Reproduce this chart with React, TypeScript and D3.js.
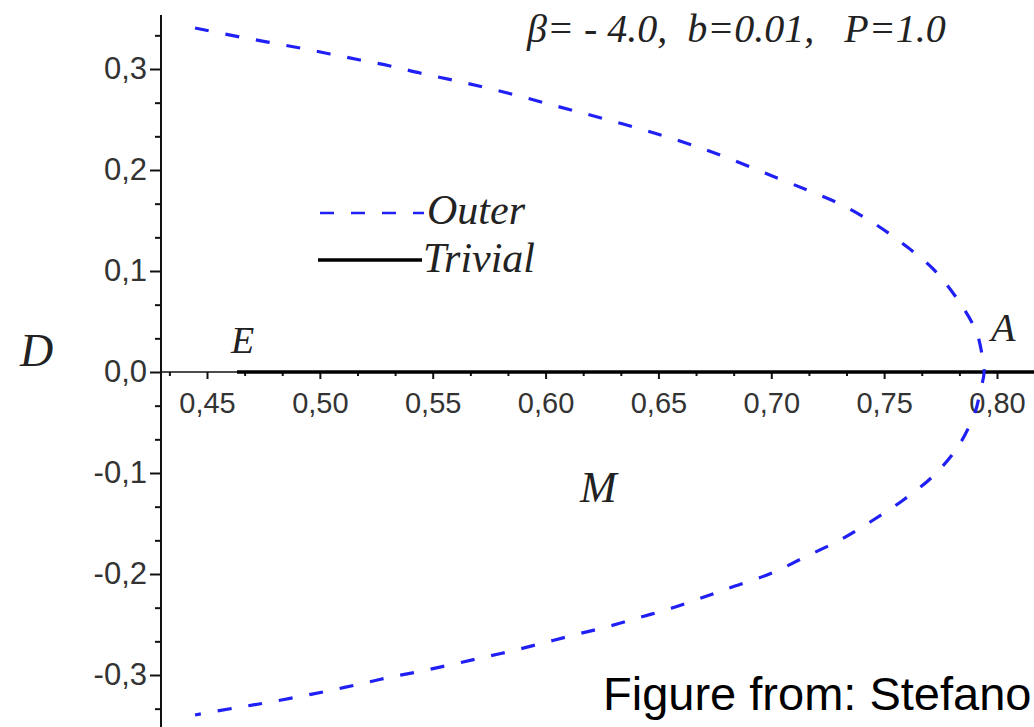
import React, { useRef, useEffect } from 'react';
import * as d3 from 'd3';

const outerM = [
  0.4447, 0.4646, 0.4912, 0.5045, 0.5178, 0.5311, 0.5444, 0.5586, 0.5723, 0.5865,
  0.5998, 0.613, 0.6263, 0.6405, 0.6538, 0.6675, 0.6808, 0.6972, 0.7158, 0.7305,
  0.7446, 0.7579, 0.7717, 0.7827, 0.7907, 0.7934, 0.7943,
  0.7925, 0.7903, 0.7832, 0.7717, 0.7579, 0.7438, 0.7305, 0.7158, 0.7003, 0.6839,
  0.6702, 0.656, 0.6423, 0.6286, 0.6144, 0.6006, 0.5869, 0.5732, 0.5594, 0.5453,
  0.5315, 0.5178, 0.5036, 0.4899, 0.4757, 0.462, 0.4447,
];
const outerD = [
  0.3406, 0.3317, 0.3208, 0.3149, 0.3089, 0.303, 0.296, 0.2891, 0.2822, 0.2743,
  0.2663, 0.2584, 0.2505, 0.2416, 0.2327, 0.2228, 0.2119, 0.197, 0.1802, 0.1663,
  0.1485, 0.1277, 0.102, 0.0713, 0.0406, 0.0168, 0.0,
  -0.0198, -0.0396, -0.0723, -0.103, -0.1277, -0.1485, -0.1663, -0.1822, -0.199, -0.2119,
  -0.2228, -0.2337, -0.2426, -0.2515, -0.2594, -0.2673, -0.2752, -0.2822, -0.2891, -0.296,
  -0.302, -0.3089, -0.3158, -0.3218, -0.3277, -0.3327, -0.3396,
];

// Trivial solution D = 0, from the point E onwards
const trivialM = [0.4633, 0.82];
const trivialD = [0, 0];

const xTicks = [0.45, 0.5, 0.55, 0.6, 0.65, 0.7, 0.75, 0.8];
const xTickLabels = ['0,45', '0,50', '0,55', '0,60', '0,65', '0,70', '0,75', '0,80'];
const yTicks = [-0.3, -0.2, -0.1, 0.0, 0.1, 0.2, 0.3];
const yTickLabels = ['-0,3', '-0,2', '-0,1', '0,0', '0,1', '0,2', '0,3'];

const legendLabels = ['Outer', 'Trivial'];
const title = 'β= - 4.0,  b=0.01,   P=1.0';

const W = 1034;
const H = 727;
const sans = "'Liberation Sans', Arial, sans-serif";
const serif = "'Liberation Serif', 'Times New Roman', serif";
const blue = '#2020f4';

const App = () => {
  const ref = useRef<SVGSVGElement>(null);

  useEffect(() => {
    const svg = d3.select(ref.current);
    svg.selectAll('*').remove();

    const x = d3.scaleLinear().domain([0.45, 0.8]).range([207, 997]);
    const y = d3.scaleLinear().domain([-0.3, 0.3]).range([675, 69]);
    const left = 161;
    const top = 15;

    // minor ticks: two between each pair of majors
    const xMinor = d3.range(-1, 22).filter((k) => k % 3 !== 0).map((k) => 0.45 + (k * 0.05) / 3);
    const yMinor = d3.range(-10, 11).filter((k) => k % 3 !== 0).map((k) => (k * 0.1) / 3);

    // y axis
    svg.append('line')
      .attr('x1', left).attr('x2', left).attr('y1', top).attr('y2', H)
      .attr('stroke', '#111').attr('stroke-width', 2);
    const yAxis = svg.append('g').attr('transform', `translate(${left},0)`)
      .call(d3.axisLeft(y).tickValues(yTicks).tickSize(11).tickPadding(3)
        .tickFormat((d, i) => yTickLabels[i]));
    const yAxisMinor = svg.append('g').attr('transform', `translate(${left},0)`)
      .call(d3.axisLeft(y).tickValues(yMinor).tickSize(6).tickFormat(() => ''));

    // x axis, drawn through D = 0
    svg.append('line')
      .attr('x1', left).attr('x2', W).attr('y1', y(0)).attr('y2', y(0))
      .attr('stroke', '#111').attr('stroke-width', 1.5);
    const xAxis = svg.append('g').attr('transform', `translate(0,${y(0)})`)
      .call(d3.axisBottom(x).tickValues(xTicks).tickSize(7).tickPadding(13)
        .tickFormat((d, i) => xTickLabels[i]));
    const xAxisMinor = svg.append('g').attr('transform', `translate(0,${y(0)})`)
      .call(d3.axisBottom(x).tickValues(xMinor).tickSize(4).tickFormat(() => ''));

    [xAxis, yAxis, xAxisMinor, yAxisMinor].forEach((g) => {
      g.select('.domain').remove();
      g.selectAll('line').attr('stroke', '#111').attr('stroke-width', 2);
      g.selectAll('text').attr('font-family', sans).attr('fill', '#333');
    });
    xAxis.selectAll('text').attr('font-size', 29);
    yAxis.selectAll('text').attr('font-size', 31);

    const line = d3.line<number[]>()
      .x((d) => x(d[0]))
      .y((d) => y(d[1]));

    // trivial branch
    svg.append('path')
      .attr('d', line(trivialM.map((m, i) => [m, trivialD[i]])))
      .attr('fill', 'none').attr('stroke', '#000').attr('stroke-width', 3.5);

    // outer branch
    const outerLine = d3.line<number[]>()
      .x((d) => x(d[0]))
      .y((d) => y(d[1]))
      .curve(d3.curveCatmullRom.alpha(0.5));
    svg.append('path')
      .attr('d', outerLine(outerM.map((m, i) => [m, outerD[i]])))
      .attr('fill', 'none').attr('stroke', blue).attr('stroke-width', 3.2)
      .attr('stroke-dasharray', '14 17');

    // legend
    svg.append('line')
      .attr('x1', 320).attr('x2', 424).attr('y1', 213).attr('y2', 213)
      .attr('stroke', blue).attr('stroke-width', 2.5).attr('stroke-dasharray', '14 17');
    svg.append('line')
      .attr('x1', 318).attr('x2', 422).attr('y1', 260).attr('y2', 260)
      .attr('stroke', '#000').attr('stroke-width', 3.5);
    svg.selectAll('.legend-text').data(legendLabels).enter().append('text')
      .attr('class', 'legend-text')
      .attr('x', (d, i) => (i === 0 ? 427 : 423))
      .attr('y', (d, i) => (i === 0 ? 224 : 272))
      .attr('font-family', serif).attr('font-style', 'italic').attr('font-size', 42)
      .attr('fill', '#222')
      .text((d) => d);

    // annotations
    const italic = (txt: string, px: number, py: number, size: number) =>
      svg.append('text').attr('x', px).attr('y', py)
        .attr('font-family', serif).attr('font-style', 'italic').attr('font-size', size)
        .attr('fill', '#222').style('white-space', 'pre').text(txt);
    italic(title, 527, 42, 40);
    italic('D', 20, 366, 46);
    italic('E', 231, 353, 38);
    italic('A', 991, 341, 40);
    italic('M', 580, 502, 44);

    svg.append('text').attr('x', 603).attr('y', 710)
      .attr('font-family', sans).attr('font-size', 47).attr('fill', '#000')
      .text('Figure from: Stefano');
  }, []);

  return (
    <svg
      ref={ref}
      width={W}
      height={H}
      style={{ position: 'absolute', left: 0, top: 0, background: '#fff' }}
    />
  );
};

export default App;
